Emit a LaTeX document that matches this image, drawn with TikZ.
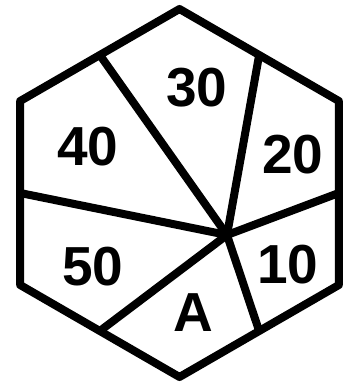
\documentclass[tikz,border=0pt]{standalone}
\usepackage{fontspec}
\setmainfont{Liberation Sans}
\usetikzlibrary{calc}

\begin{document}
\begin{tikzpicture}[x=1pt, y=-1pt]
  \tikzstyle{rim} = [draw=black, line width=8pt, line join=round]
  \tikzstyle{spoke} = [draw=black, line width=8pt, line cap=butt]
  \tikzstyle{number} = [font=\fontsize{55}{60}\selectfont\bfseries, inner sep=0pt]

  \useasboundingbox (0,0) rectangle (350,386);

  % corners of the hexagon
  \coordinate (top) at (179.5,9);
  \coordinate (ur) at (338.8,101);
  \coordinate (lr) at (338.8,285);
  \coordinate (bot) at (179.5,377);
  \coordinate (ll) at (20.2,285);
  \coordinate (ul) at (20.2,101);
  \coordinate (hub) at (227,235);

  % midpoints of the sides
  \coordinate (mtr) at ($(top)!0.5!(ur)$);
  \coordinate (mr) at ($(ur)!0.5!(lr)$);
  \coordinate (mbr) at ($(lr)!0.5!(bot)$);
  \coordinate (mbl) at ($(bot)!0.5!(ll)$);
  \coordinate (ml) at ($(ll)!0.5!(ul)$);
  \coordinate (mtl) at ($(ul)!0.5!(top)$);

  \path [rim] (top) -- (ur) -- (lr) -- (bot) -- (ll) -- (ul) -- cycle;

  \foreach \m in {mtr,mr,mbr,mbl,ml,mtl}
    \path [spoke] (hub) -- (\m);

  \node [number] (n30) at (197,88) {30};
  \node [number] (n40) at (88,147) {40};
  \node [number] (n20) at (293,155) {20};
  \node [number] (n10) at (288,265) {10};
  \node [number] (n50) at (93,267) {50};
  \node [number] (na) at (193,313) {A};
\end{tikzpicture}
\end{document}
